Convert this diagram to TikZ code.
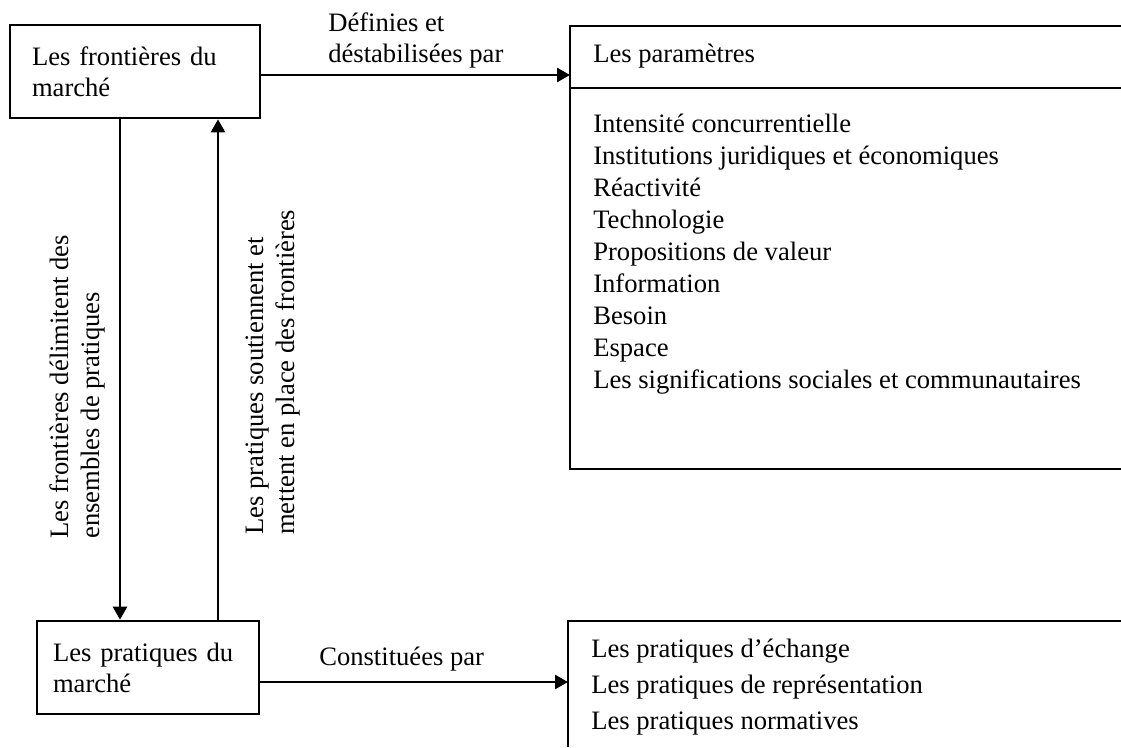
\documentclass[tikz,border=0pt]{standalone}
\usepackage{fontspec}
\setmainfont{Liberation Serif}
\usetikzlibrary{arrows.meta}
\newcommand\diagfont{\fontsize{26.6}{31}\selectfont}
\tikzset{
  every picture/.style={
    line width=2.6pt,
    >={Triangle[width=14pt, length=13pt]}
  },
  box/.style={
    draw, rectangle, align=left, inner xsep=22pt, inner ysep=0pt,
    minimum height=93pt, font=\diagfont
  },
  txt/.style={
    inner sep=0pt, align=left, font=\diagfont
  }
}
\begin{document}
\begin{tikzpicture}[x=1pt, y=-1pt]
  \useasboundingbox (0,0) rectangle (1121,747);
  % left column
  \node[box, text width=206pt, minimum width=250pt] (front) at (135,71.5) {Les frontières du\\marché};
  \node[box, text width=190pt, minimum width=222pt, inner xsep=16pt] (pract) at (148,667.5) {Les pratiques du\\marché};
  % right column, open to the right
  \draw (1121,26) -| (570,469) -- (1121,469);
  \draw[line width=1.6pt] (570,88) -- (1121,88);
  \draw (568,747) |- (1121,621);
  \node[txt, anchor=base west] (head) at (592,62) {Les paramètres};
  \node[txt, anchor=base west, font=\fontsize{26.6}{32}\selectfont] (params) at (592,388) {Intensité concurrentielle\\Institutions juridiques et économiques\\Réactivité\\Technologie\\Propositions de valeur\\Information\\Besoin\\Espace\\Les significations sociales et communautaires};
  \node[txt, anchor=base west, font=\fontsize{26.6}{36}\selectfont] (kinds) at (590,729) {Les pratiques d’échange\\Les pratiques de représentation\\Les pratiques normatives};
  % arrows
  \coordinate (paramsin) at (570,75);
  \coordinate (kindsin) at (568,682);
  \coordinate (downx) at (120,0);
  \coordinate (upx) at (218,0);
  \draw[->] (front.east |- paramsin) -- (paramsin);
  \draw[->] (pract.east |- kindsin) -- (kindsin);
  \draw[->] (front.south -| downx) -- (pract.north -| downx);
  \draw[->] (pract.north -| upx) -- (front.south -| upx);
  % arrow labels
  \node[txt, anchor=base west] (deflbl) at (327,62) {Définies et\\déstabilisées par};
  \node[txt, anchor=base west] (conlbl) at (318,665) {Constituées par};
  \node[txt, anchor=base west, rotate=90] (delimlbl) at (99,540) {Les frontières délimitent des\\ensembles de pratiques};
  \node[txt, anchor=base west, rotate=90] (souslbl) at (294,536) {Les pratiques soutiennent et\\mettent en place des frontières};
\end{tikzpicture}
\end{document}
